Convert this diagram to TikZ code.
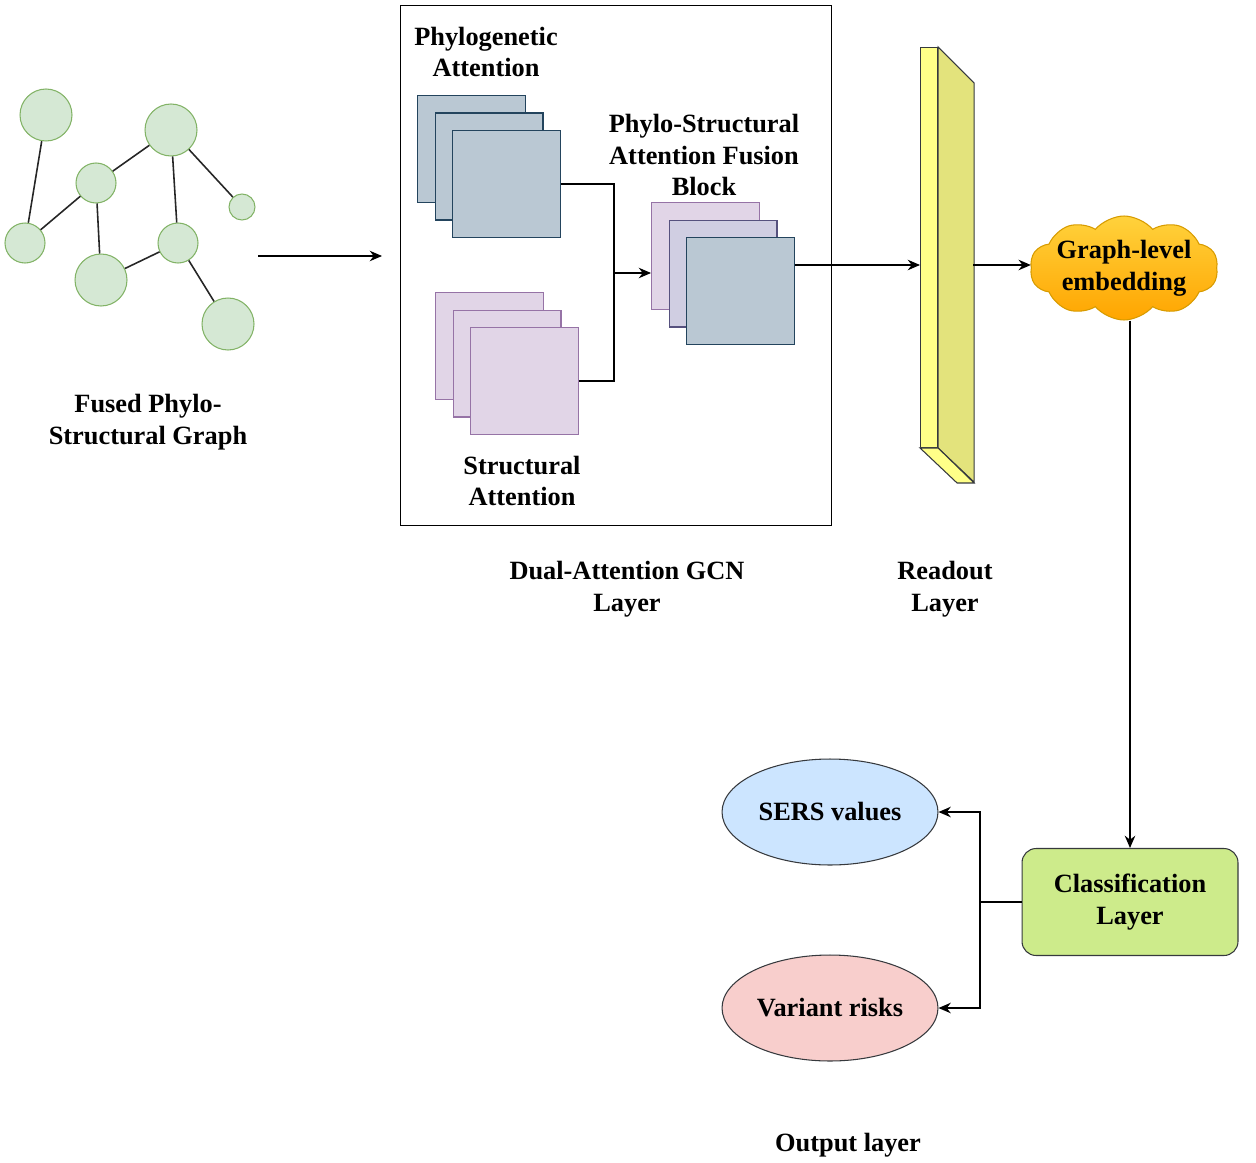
\documentclass[tikz,border=0pt]{standalone}
\usepackage{fontspec}
\setmainfont{Liberation Serif}
\usetikzlibrary{arrows.meta, shapes.geometric, shapes.symbols, positioning, calc}
\definecolor{graphfill}{HTML}{D5E8D4}
\definecolor{graphdraw}{HTML}{82B366}
\definecolor{bluefill}{HTML}{BAC8D3}
\definecolor{bluedraw}{HTML}{23445D}
\definecolor{purplefill}{HTML}{E1D5E7}
\definecolor{purpledraw}{HTML}{9673A6}
\definecolor{midfill}{HTML}{D0CEE2}
\definecolor{middraw}{HTML}{56517E}
\definecolor{barfront}{HTML}{FFFF88}
\definecolor{barside}{HTML}{E3E37C}
\definecolor{darkline}{HTML}{36393D}
\definecolor{cloudtop}{HTML}{FFD23C}
\definecolor{cloudbottom}{HTML}{FFA500}
\definecolor{clouddraw}{HTML}{D79B00}
\definecolor{clsfill}{HTML}{CDEB8B}
\definecolor{sersfill}{HTML}{CCE5FF}
\definecolor{riskfill}{HTML}{F8CECC}
\tikzset{
  graph node/.style={
    circle,
    draw=graphdraw,
    fill=graphfill,
    line width=0.6pt,
    inner sep=0pt
  },
  graph edge/.style={
    draw=black!85,
    line width=0.9pt
  },
  flow/.style={
    line width=0.8pt,
    color=black
  },
  card/.style={
    rectangle,
    anchor=north west,
    line width=0.8pt,
    minimum width=2.16cm,
    minimum height=2.14cm,
    inner sep=0pt
  },
  blue card/.style={card, draw=bluedraw, fill=bluefill},
  purple card/.style={card, draw=purpledraw, fill=purplefill},
  mid card/.style={card, draw=middraw, fill=midfill},
  label text/.style={
    align=center,
    inner sep=0pt
  },
  out ellipse/.style={
    ellipse,
    draw=darkline,
    line width=0.6pt,
    inner sep=0pt,
    minimum width=4.32cm,
    minimum height=2.12cm
  }
}

\begin{document}
\begin{tikzpicture}[x=0.02cm, y=-0.02cm, >={Stealth[length=7pt, width=6pt]},
    font=\fontsize{15}{18}\selectfont\bfseries]
    \useasboundingbox (0,0) rectangle (1256,1162);

    % input graph
    \node[graph node, minimum size=1.04cm] (g1) at (46,115) {};
    \node[graph node, minimum size=1.04cm] (g2) at (171,130) {};
    \node[graph node, minimum size=0.8cm] (g3) at (96,183) {};
    \node[graph node, minimum size=0.52cm] (g4) at (242,207) {};
    \node[graph node, minimum size=0.8cm] (g5) at (25,243) {};
    \node[graph node, minimum size=0.8cm] (g6) at (178,243) {};
    \node[graph node, minimum size=1.04cm] (g7) at (101,280) {};
    \node[graph node, minimum size=1.04cm] (g8) at (228,324) {};
    \draw[graph edge] (g1) -- (g5);
    \draw[graph edge] (g3) -- (g5);
    \draw[graph edge] (g3) -- (g2);
    \draw[graph edge] (g3) -- (g7);
    \draw[graph edge] (g2) -- (g6);
    \draw[graph edge] (g2) -- (g4);
    \draw[graph edge] (g6) -- (g7);
    \draw[graph edge] (g6) -- (g8);
    \node[label text] (graphlbl) at (148,422) {Fused Phylo-\\Structural Graph};

    \coordinate (graphout) at (258,256);
    \coordinate (gcnin) at (382,256);
    \draw[->, flow] (graphout) -- (gcnin);

    % dual attention block
    \node[draw, line width=0.8pt, anchor=north west, minimum width=8.62cm,
      minimum height=10.4cm, inner sep=0pt] (gcn) at (400,5) {};
    \node[label text] (phylolbl) at (486,52) {Phylogenetic\\Attention};
    \foreach \i in {1,2,3} {
      \node[blue card] (bp\i) at ({417+17.5*(\i-1)}, {95+17.5*(\i-1)}) {};
    }
    \foreach \i in {1,2,3} {
      \node[purple card] (sp\i) at ({435+17.5*(\i-1)}, {292+17.5*(\i-1)}) {};
    }
    \node[label text] (structlbl) at (522,481) {Structural\\Attention};

    % fusion block
    \node[label text] (fuselbl) at (704,155) {Phylo-Structural\\Attention Fusion\\Block};
    \node[purple card] (fp1) at (651,202) {};
    \node[mid card] (fp2) at (668.5,219.5) {};
    \node[blue card] (fp3) at (686,237) {};

    \coordinate (join) at (614,273);
    \draw[flow] (bp3.east) -| (join);
    \draw[flow] (sp3.east) -| (join);
    \draw[->, flow] (join) -- (join -| fp1.west);

    \node[label text] (gcnlbl) at (627,589) {Dual-Attention GCN\\Layer};

    % readout bar
    \node[draw=darkline, fill=barfront, line width=0.6pt, anchor=north west,
      minimum width=0.34cm, minimum height=8cm, inner sep=0pt] (readout) at (920,47) {};
    \draw[draw=darkline, fill=barside, line width=0.6pt]
      (readout.north east) -- ++(36,36) -- ++(0,399) -- (readout.south east) -- cycle;
    \draw[draw=darkline, fill=barfront, line width=0.6pt]
      (readout.south west) -- (readout.south east) -- ++(36,35) -- ++(-17,0) -- cycle;
    \node[label text] (readlbl) at (945,589) {Readout\\Layer};

    \coordinate (rdin) at (920,265);
    \coordinate (rdout) at (973,265);
    \draw[->, flow] (rdin -| fp3.east) -- (rdin);

    % embedding cloud
    \node[cloud, cloud puffs=10, cloud puff arc=100, aspect=2.3, draw=clouddraw, line width=0.6pt,
      top color=cloudtop, bottom color=cloudbottom, minimum width=3.76cm,
      minimum height=2.08cm, inner sep=-4pt, align=center] (emb) at (1124,268) {Graph-level\\embedding};
    \draw[->, flow] (rdout) -- (emb.west |- rdout);

    % classification and outputs
    \node[rectangle, rounded corners=8pt, draw=darkline, fill=clsfill, line width=0.6pt,
      minimum width=4.32cm, minimum height=2.14cm, align=center] (cls) at (1130,902) {Classification\\Layer};
    \draw[->, flow] (cls.north |- emb.south) -- (cls.north);

    \node[out ellipse, fill=sersfill] (sers) at (830,812) {SERS values};
    \node[out ellipse, fill=riskfill] (risk) at (830,1008) {Variant risks};

    \coordinate (split) at (980,902);
    \draw[flow] (cls.west) -- (split);
    \draw[->, flow] (split) |- (sers.east);
    \draw[->, flow] (split) |- (risk.east);

    \node[label text] (outlbl) at (848,1145) {Output layer};
  \end{tikzpicture}
\end{document}
